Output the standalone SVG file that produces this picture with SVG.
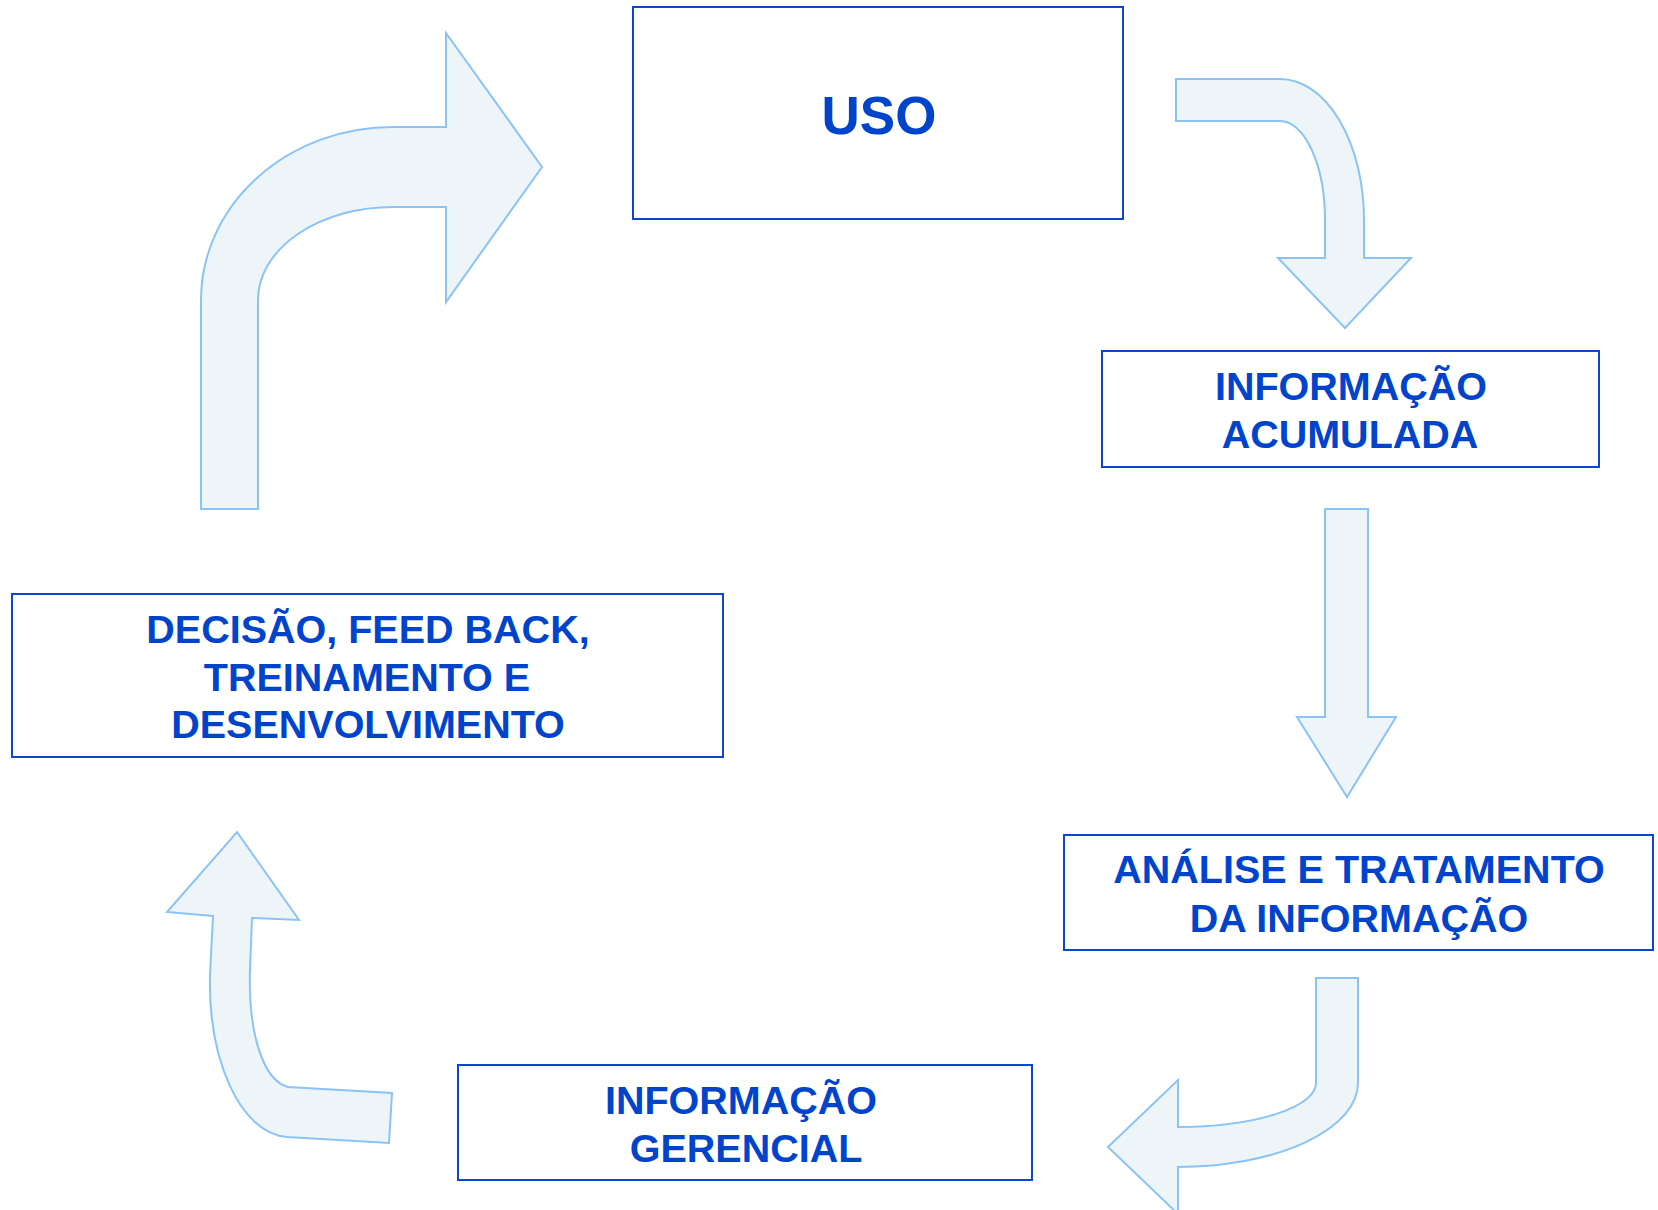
<svg xmlns="http://www.w3.org/2000/svg" width="1658" height="1210" viewBox="0 0 1658 1210">
<style>
.box{fill:#ffffff;stroke:#0A47CF;stroke-width:2}
.lbl{font-family:"Liberation Sans",Arial,sans-serif;font-weight:bold;font-size:39.5px;fill:#0044CC;text-anchor:middle}
.arr{fill:#EDF5F8;stroke:#8BC3F5;stroke-width:2;stroke-linejoin:miter}
</style>
<rect width="1658" height="1210" fill="#ffffff"/>
<g id="connectors">
<path class="arr" d="M201 509 L201 300 A192 173 0 0 1 393 127 L446 127 L446 33 L542 167 L446 302 L446 207 L393 207 A135 93 0 0 0 258 300 L258 509 Z"/>
<path class="arr" d="M1176 79 L1280 79 A84 141 0 0 1 1364 220 L1364 258 L1411 258 L1345 328 L1278 258 L1325 258 L1325 220 A45 99 0 0 0 1280 121 L1176 121 Z"/>
<path class="arr" d="M1325 509 L1368 509 L1368 717 L1396 717 L1347 797 L1297 717 L1325 717 Z"/>
<path class="arr" d="M1316 978 L1358 978 L1358 1083 A180 84 0 0 1 1178 1167 L1178 1214 L1108 1147 L1178 1080 L1178 1127 A138 44 0 0 0 1316 1083 Z"/>
<path class="arr" d="M237 832 L299 920 L252 918 L250 970 C248 1030 262 1080 288 1087 L392 1093 L389 1143 L287 1137 C240 1133 208 1060 210 975 L213 916 L167 912 Z"/>
</g>
<g id="node-uso">
<rect class="box" x="633" y="7" width="490" height="212"/>
<text class="lbl" x="879" y="134" style="font-size:53px">USO</text>
</g>
<g id="node-info-acumulada">
<rect class="box" x="1102" y="351" width="497" height="116"/>
<text class="lbl" x="1351" y="400">INFORMAÇÃO</text>
<text class="lbl" x="1350" y="448">ACUMULADA</text>
</g>
<g id="node-analise">
<rect class="box" x="1064" y="835" width="589" height="115"/>
<text class="lbl" x="1359" y="883">ANÁLISE E TRATAMENTO</text>
<text class="lbl" x="1359" y="932">DA INFORMAÇÃO</text>
</g>
<g id="node-info-gerencial">
<rect class="box" x="458" y="1065" width="574" height="115"/>
<text class="lbl" x="741" y="1114">INFORMAÇÃO</text>
<text class="lbl" x="746" y="1162">GERENCIAL</text>
</g>
<g id="node-decisao">
<rect class="box" x="12" y="594" width="711" height="163"/>
<text class="lbl" x="368" y="643">DECISÃO, FEED BACK,</text>
<text class="lbl" x="367" y="691">TREINAMENTO E</text>
<text class="lbl" x="368" y="738">DESENVOLVIMENTO</text>
</g>
</svg>
